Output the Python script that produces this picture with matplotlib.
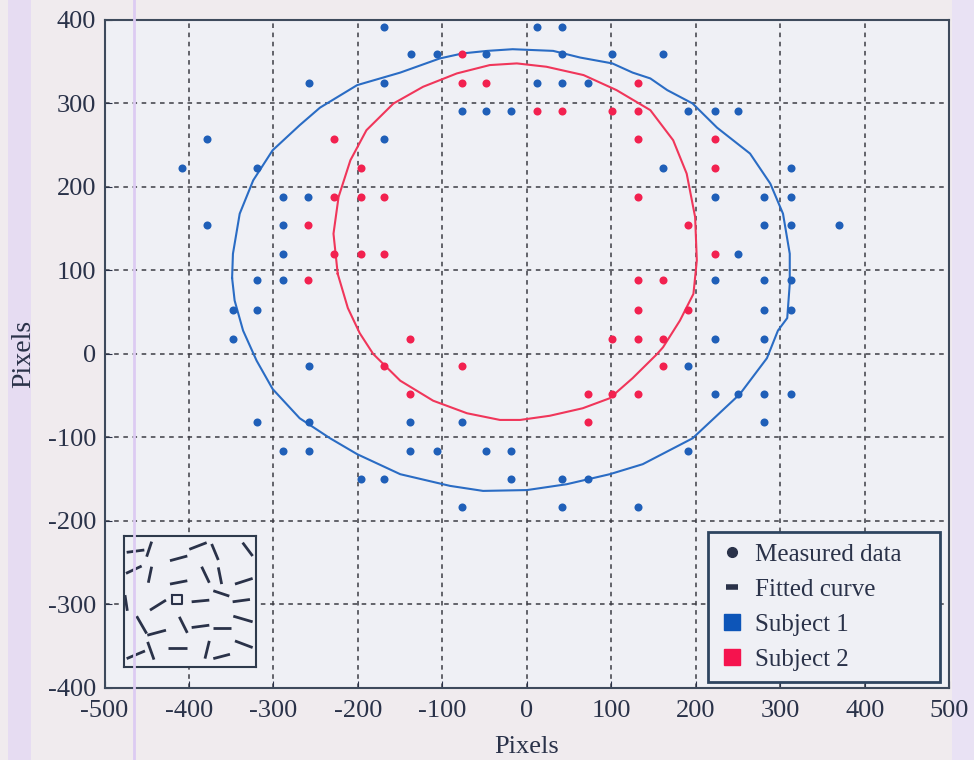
import numpy as np
import matplotlib
matplotlib.use("Agg")
import matplotlib.pyplot as plt
from matplotlib.lines import Line2D
from matplotlib.patches import Rectangle

plt.rcParams['font.family'] = ['Liberation Serif', 'DejaVu Serif']
plt.rcParams['axes.unicode_minus'] = False

# measured data, subject 1 (blue)
s1_x = [-169, 12, 42,
        -137, -107, -48, 42, 101, 161,
        -258, -169, 12, 42, 72,
        -77, -48, -19, 190, 223, 250,
        -379, -169,
        -408, -319, 161, 312,
        -289, -259, 223, 280, 312,
        -379, -289, 280, 312, 369,
        -289, 250,
        -319, -289, 223, 280, 312,
        -348, -319, 280, 312,
        -348, 223, 280,
        -258, 190,
        223, 250, 280, 312,
        -319, -258, -138, -77, 280,
        -289, -258, -138, -107, -48, -19, 190,
        -196, -169, -19, 42, 72,
        -77, 42, 131]
s1_y = [392, 392, 392,
        359, 359, 359, 359, 359, 359,
        324, 324, 324, 324, 324,
        291, 291, 291, 291, 291, 291,
        257, 257,
        223, 223, 223, 223,
        188, 188, 188, 188, 188,
        155, 155, 155, 155, 155,
        120, 120,
        88, 88, 88, 88, 88,
        53, 53, 53, 53,
        18, 18, 18,
        -15, -15,
        -48, -48, -48, -48,
        -82, -82, -82, -82, -82,
        -116, -116, -116, -116, -116, -116, -116,
        -150, -150, -150, -150, -150,
        -183, -183, -183]

# measured data, subject 2 (red)
s2_x = [-77,
        -77, -48, 131,
        12, 42, 101, 131,
        -228, 131, 223,
        -196, 223,
        -228, -196, -169, 131,
        -259, 190,
        -228, -196, -169, 223,
        -259, 131, 161,
        131, 190,
        -138, 101, 131, 161,
        -169, -77, 161,
        -138, 72, 101, 131,
        72]
s2_y = [359,
        324, 324, 324,
        291, 291, 291, 291,
        257, 257, 257,
        223, 223,
        188, 188, 188, 188,
        155, 155,
        120, 120, 120, 120,
        88, 88, 88,
        53, 53,
        18, 18, 18, 18,
        -15, -15, -15,
        -48, -48, -48, -48,
        -82]

# fitted curves
fit1_x = [-349, -348, -340, -324, -301, -269, -245, -201, -150, -103, -76, -47, -17,
          31, 63, 101, 125, 146, 166, 196, 225, 264, 288, 303, 311, 311, 308, 297,
          284, 252, 196, 137, 98, 47, 0, -52, -91, -150, -201, -233, -269, -301,
          -320, -336, -346, -349]
fit1_y = [91, 120, 168, 208, 244, 274, 295, 322, 337, 354, 360, 363, 365,
          363, 355, 348, 337, 330, 316, 300, 271, 240, 204, 168, 120, 84, 43, 28,
          -5, -48, -101, -132, -144, -156, -163, -164, -158, -144, -120, -101, -77, -42,
          -8, 28, 64, 91]

fit2_x = [-224, -229, -223, -209, -190, -158, -123, -83, -44, -12, 23, 67, 106,
          146, 173, 189, 199, 201, 197, 181, 161, 154, 125, 98, 66, 27, -8, -32,
          -71, -111, -150, -182, -198, -212, -224]
fit2_y = [96, 144, 188, 232, 268, 300, 320, 336, 346, 348, 344, 334, 316,
          292, 256, 216, 164, 112, 72, 40, 8, 0, -29, -53, -65, -74, -79, -79,
          -71, -56, -32, 0, 25, 55, 96]

# inset sketch: short line segments (x0, y0, x1, y1) in inset units
inset_segs = [(80, 97, 133, 90), (155, 65, 140, 110), (210, 122, 262, 108),
              (268, 88, 320, 68), (335, 72, 355, 120), (428, 68, 458, 108),
              (78, 160, 125, 138), (155, 140, 145, 188), (305, 140, 328, 188),
              (355, 142, 365, 192), (210, 192, 262, 182), (405, 192, 458, 175),
              (75, 225, 82, 272), (150, 270, 198, 240), (275, 245, 328, 240),
              (340, 212, 388, 228), (398, 245, 450, 238), (110, 288, 140, 340),
              (142, 345, 198, 330), (238, 290, 262, 338), (275, 322, 328, 315),
              (338, 322, 392, 322), (400, 288, 458, 305), (143, 365, 162, 418),
              (80, 415, 135, 392), (205, 382, 262, 382), (328, 362, 315, 415),
              (340, 415, 390, 402), (405, 362, 458, 382)]
inset_box = (215, 225, 245, 252)

blue = '#1f5fb8'
red = '#f2214f'
navy = '#2a3249'
bg_ax = '#eff0f5'

fig = plt.figure(figsize=(9.74, 7.6), dpi=100, facecolor='#f0ebee')
# pale tinted bands at the edges of the scanned page
fig.add_artist(Rectangle((0.008, 0), 0.024, 1, transform=fig.transFigure,
                         color='#e6dcf2', lw=0, zorder=0))
fig.add_artist(Rectangle((0.977, 0), 0.023, 1, transform=fig.transFigure,
                         color='#e9e2f4', lw=0, zorder=0))

ax = fig.add_axes([0.1073, 0.0948, 0.8675, 0.8789], facecolor=bg_ax)

ax.plot(fit1_x, fit1_y, color='#2a6cc4', lw=1.5, zorder=2)
ax.plot(fit2_x, fit2_y, color='#f0365a', lw=1.5, zorder=2)
ax.plot(s1_x, s1_y, 'o', color=blue, ms=5.8, mec='none', zorder=3)
ax.plot(s2_x, s2_y, 'o', color=red, ms=5.8, mec='none', zorder=3)

ax.set_xlim(-500, 500)
ax.set_ylim(-400, 400)
ax.set_xticks(np.arange(-500, 501, 100))
ax.set_yticks(np.arange(-400, 401, 100))
ax.grid(True, color='#3c3c44', linestyle=(0, (3, 3)), lw=1.1)
ax.tick_params(direction='in', length=5, colors=navy, labelsize=19)
ax.tick_params(axis='x', pad=9)
ax.tick_params(axis='y', pad=6)
for sp in ax.spines.values():
    sp.set_color('#3e4a5c')
    sp.set_linewidth(1.5)
ax.set_xlabel('Pixels', fontsize=19, color=navy, labelpad=10)
ax.set_ylabel('Pixels', fontsize=20, color=navy, labelpad=8)

handles = [
    Line2D([], [], ls='none', marker='o', color=navy, ms=7),
    Line2D([], [], ls='none', marker='_', color=navy, ms=9, mew=4),
    Line2D([], [], ls='none', marker='s', color='#0d55b8', ms=12),
    Line2D([], [], ls='none', marker='s', color='#f5134e', ms=12),
]
labels = ['Measured data', 'Fitted curve', 'Subject 1', 'Subject 2']
leg = ax.legend(handles, labels, loc='lower left',
                bbox_to_anchor=(0.714, 0.009, 0.275, 0.222), mode='expand',
                borderaxespad=0, fontsize=18, labelspacing=0.5, handlelength=1.0,
                handletextpad=0.45, frameon=True, fancybox=False, borderpad=0.45)
leg.get_frame().set_edgecolor('#2e4560')
leg.get_frame().set_linewidth(2)
leg.get_frame().set_facecolor(bg_ax)
leg.get_frame().set_alpha(1)
for t in leg.get_texts():
    t.set_color(navy)

# inset with the stimulus sketch
ins = fig.add_axes([0.1273, 0.1224, 0.1355, 0.1724], facecolor=bg_ax)
for x0, y0, x1, y1 in inset_segs:
    ins.plot([x0, x1], [y0, y1], color=navy, lw=2, solid_capstyle='butt')
bx0, by0, bx1, by1 = inset_box
ins.plot([bx0, bx1, bx1, bx0, bx0], [by0, by0, by1, by1, by0], color=navy, lw=1.5)
ins.set_xlim(72, 468)
ins.set_ylim(440, 48)
ins.set_xticks([])
ins.set_yticks([])
for sp in ins.spines.values():
    sp.set_color('#2e3a4c')
    sp.set_linewidth(1.5)

# faint vertical scan streak
fig.add_artist(Line2D([0.138, 0.138], [0, 1], transform=fig.transFigure,
                      color='#dccbf2', lw=2, zorder=10))

fig.savefig('out.png', dpi=100, facecolor=fig.get_facecolor())
